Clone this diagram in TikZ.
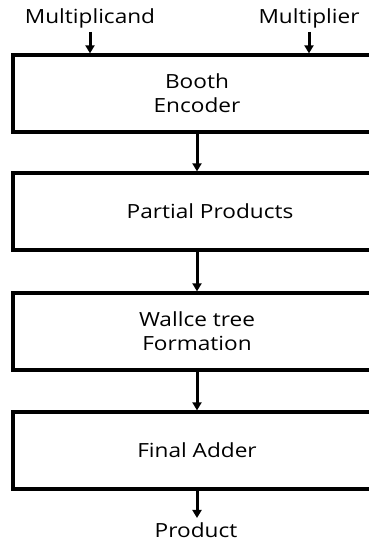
\documentclass[tikz,border=0pt]{standalone}
\usepackage{fontspec}
\setmainfont{Open Sans}[FakeStretch=1.16]
\usetikzlibrary{arrows.meta}

\tikzset{
  block/.style={draw, line width=3.3pt, minimum width=368pt, minimum height=77pt, align=center, inner sep=0pt},
  flow/.style={line width=3pt, -{Triangle[width=9pt,length=8pt]}},
  io/.style={anchor=base, inner sep=4pt}
}

\begin{document}
\begin{tikzpicture}[x=1pt, y=-1pt, font=\fontsize{19.5}{24}\selectfont]
\useasboundingbox (0,0) rectangle (369,542);
\clip (0,0) rectangle (369,542);
% inputs
\node[io] (mcand) at (90,23) {Multiplicand};
\node[io] (mplier) at (309,23) {Multiplier};
% stages
\node[block] (enc) at (197,93.5) {Booth\\Encoder};
\node[block] (pp) at (197,211.5) {\hspace*{26pt}Partial Products};
\node[block] (wal) at (197,331.5) {Wallce tree\\Formation};
\node[block] (fadd) at (197,450.5) {Final Adder};
\node[io] (prod) at (196,537) {Product};
\draw[flow] (mcand.south) -- (mcand.south |- enc.north);
\draw[flow] (mplier.south) -- (mplier.south |- enc.north);
\draw[flow] (enc) -- (pp);
\draw[flow] (pp) -- (wal);
\draw[flow] (wal) -- (fadd);
\draw[flow] (fadd.south) -- (fadd.south |- prod.north);
\end{tikzpicture}
\end{document}
